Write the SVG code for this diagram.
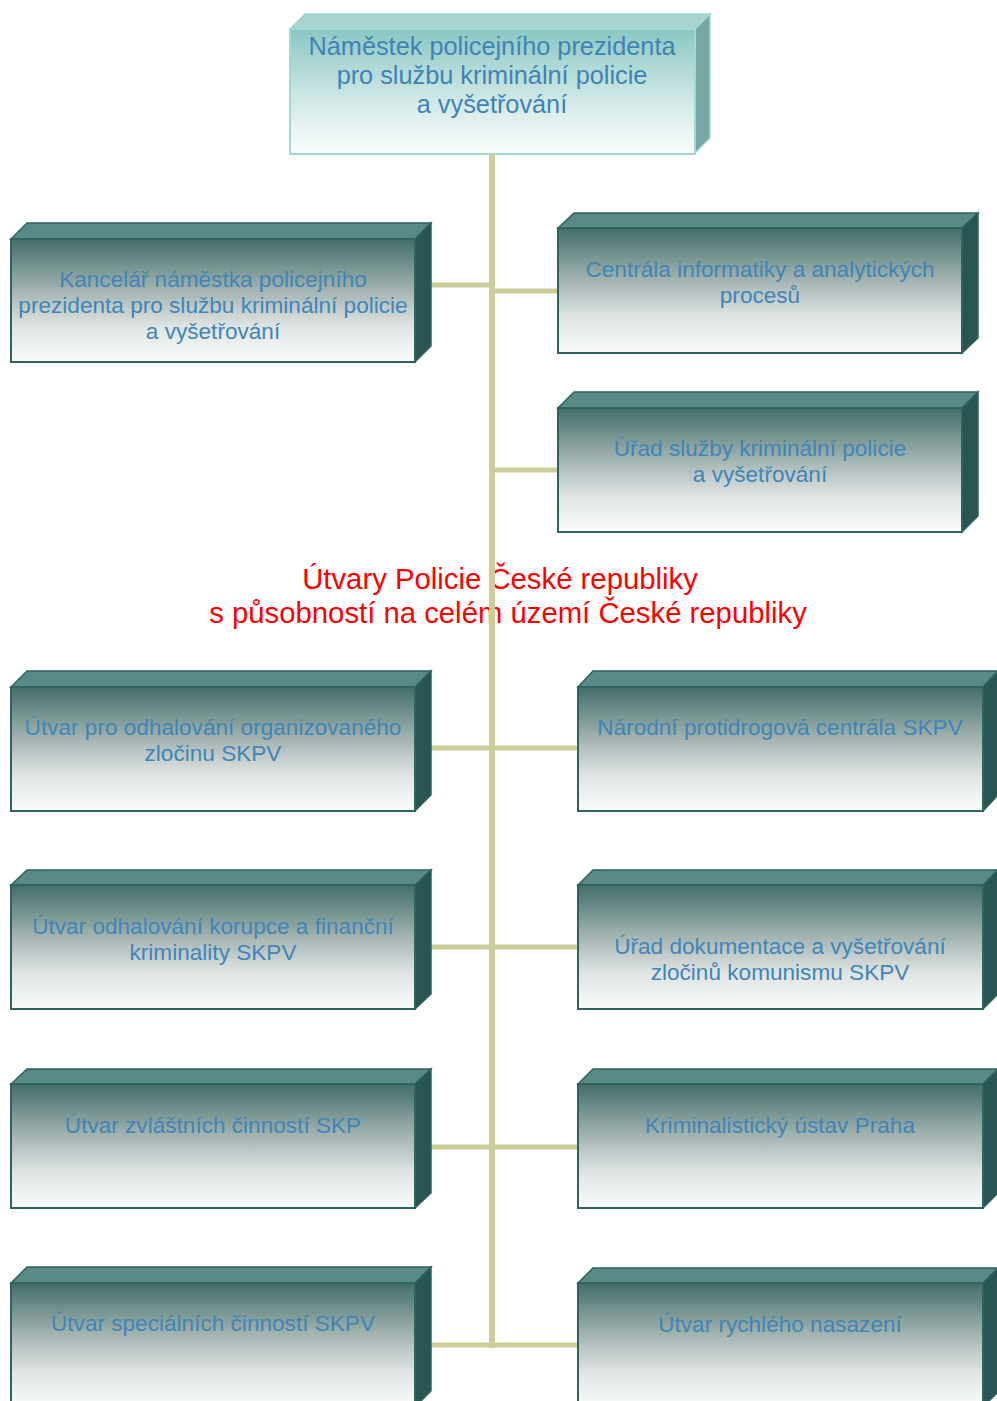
<svg xmlns="http://www.w3.org/2000/svg" width="997" height="1401" viewBox="0 0 997 1401">
<defs>
<linearGradient id="gFront" x1="0" y1="0" x2="0" y2="1">
<stop offset="0" stop-color="#436d69"/>
<stop offset="0.4" stop-color="#9fb1af"/>
<stop offset="0.7" stop-color="#dde2e2"/>
<stop offset="1" stop-color="#fbfcfc"/>
</linearGradient>
<linearGradient id="gTopFront" x1="0" y1="0" x2="0" y2="1">
<stop offset="0" stop-color="#89c7c3"/>
<stop offset="0.5" stop-color="#c9e4e2"/>
<stop offset="1" stop-color="#fcfefe"/>
</linearGradient>
<style>
.front{fill:url(#gFront);stroke:#2f6360;stroke-width:2}
.top{fill:#5b8985;stroke:#2f6360;stroke-width:1.5}
.side{fill:#285552;stroke:#2f6360;stroke-width:1.5}
.tfront{fill:url(#gTopFront);stroke:#a3d8d4;stroke-width:2}
.ttop{fill:#a8d4d0;stroke:#a3d8d4;stroke-width:1.5}
.tside{fill:#79a7a3;stroke:#a3d8d4;stroke-width:1.5}
.lbl{font-family:"Liberation Sans",Arial,sans-serif;font-size:22.6px;fill:#4285b6;text-anchor:middle}
.tlbl{font-family:"Liberation Sans",Arial,sans-serif;font-size:25.3px;fill:#3f83b4;text-anchor:middle}
.red{font-family:"Liberation Sans",Arial,sans-serif;font-size:29.3px;fill:#ff0000;text-anchor:middle}
.conn{stroke:#cdcd9a;fill:none}
</style>
</defs>
<rect width="997" height="1401" fill="#ffffff"/>

<g id="title-text">
<text class="red" x="500" y="589">Útvary Policie České republiky</text>
<text class="red" x="508" y="623">s působností na celém území České republiky</text>
</g>

<g id="connectors">
<line class="conn" x1="492" y1="150" x2="492" y2="1348" stroke-width="6"/>
<line class="conn" x1="425" y1="285" x2="492" y2="285" stroke-width="5"/>
<line class="conn" x1="492" y1="291" x2="560" y2="291" stroke-width="5"/>
<line class="conn" x1="492" y1="470" x2="560" y2="470" stroke-width="5"/>
<line class="conn" x1="425" y1="748" x2="580" y2="748" stroke-width="5"/>
<line class="conn" x1="425" y1="947" x2="580" y2="947" stroke-width="5"/>
<line class="conn" x1="425" y1="1147" x2="580" y2="1147" stroke-width="5"/>
<line class="conn" x1="425" y1="1345" x2="580" y2="1345" stroke-width="5"/>
</g>

<g id="node-top">
<polygon class="ttop" points="290,29 305,14 710,14 695,29"/>
<polygon class="tside" points="695,29 710,14 710,138 695,153"/>
<rect class="tfront" x="290" y="29" width="405" height="125"/>
<text class="tlbl" x="492" y="55">Náměstek policejního prezidenta</text>
<text class="tlbl" x="492" y="84">pro službu kriminální policie</text>
<text class="tlbl" x="492" y="113">a vyšetřování</text>
</g>

<g id="node-kancelar">
<polygon class="top" points="11,239 27,223 431,223 415,239"/>
<polygon class="side" points="415,239 431,223 431,346 415,362"/>
<rect class="front" x="11" y="239" width="404" height="123"/>
<text class="lbl" x="213" y="287">Kancelář náměstka policejního</text>
<text class="lbl" x="213" y="313">prezidenta pro službu kriminální policie</text>
<text class="lbl" x="213" y="339">a vyšetřování</text>
</g>

<g id="node-centrala">
<polygon class="top" points="558,228 574,213 978,213 962,228"/>
<polygon class="side" points="962,228 978,213 978,338 962,353"/>
<rect class="front" x="558" y="228" width="404" height="125"/>
<text class="lbl" x="760" y="277">Centrála informatiky a analytických</text>
<text class="lbl" x="760" y="303">procesů</text>
</g>

<g id="node-urad-skpv">
<polygon class="top" points="558,408 574,392 978,392 962,408"/>
<polygon class="side" points="962,408 978,392 978,516 962,532"/>
<rect class="front" x="558" y="408" width="404" height="124"/>
<text class="lbl" x="760" y="456">Úřad služby kriminální policie</text>
<text class="lbl" x="760" y="482">a vyšetřování</text>
</g>

<g id="node-uooz">
<polygon class="top" points="11,687 27,671 431,671 415,687"/>
<polygon class="side" points="415,687 431,671 431,795 415,811"/>
<rect class="front" x="11" y="687" width="404" height="124"/>
<text class="lbl" x="213" y="735">Útvar pro odhalování organizovaného</text>
<text class="lbl" x="213" y="761">zločinu SKPV</text>
</g>

<g id="node-npc">
<polygon class="top" points="578,687 593,671 998,671 983,687"/>
<polygon class="side" points="983,687 998,671 998,795 983,811"/>
<rect class="front" x="578" y="687" width="405" height="124"/>
<text class="lbl" x="780" y="735">Národní protidrogová centrála SKPV</text>
</g>

<g id="node-uokfk">
<polygon class="top" points="11,885 27,870 431,870 415,885"/>
<polygon class="side" points="415,885 431,870 431,994 415,1009"/>
<rect class="front" x="11" y="885" width="404" height="124"/>
<text class="lbl" x="213" y="934">Útvar odhalování korupce a finanční</text>
<text class="lbl" x="213" y="960">kriminality SKPV</text>
</g>

<g id="node-udv">
<polygon class="top" points="578,885 593,870 998,870 983,885"/>
<polygon class="side" points="983,885 998,870 998,994 983,1009"/>
<rect class="front" x="578" y="885" width="405" height="124"/>
<text class="lbl" x="780" y="954">Úřad dokumentace a vyšetřování</text>
<text class="lbl" x="780" y="980">zločinů komunismu SKPV</text>
</g>

<g id="node-uzc">
<polygon class="top" points="11,1084 27,1069 431,1069 415,1084"/>
<polygon class="side" points="415,1084 431,1069 431,1193 415,1208"/>
<rect class="front" x="11" y="1084" width="404" height="124"/>
<text class="lbl" x="213" y="1133">Útvar zvláštních činností SKP</text>
</g>

<g id="node-kup">
<polygon class="top" points="578,1084 593,1069 998,1069 983,1084"/>
<polygon class="side" points="983,1084 998,1069 998,1193 983,1208"/>
<rect class="front" x="578" y="1084" width="405" height="124"/>
<text class="lbl" x="780" y="1133">Kriminalistický ústav Praha</text>
</g>

<g id="node-usc">
<polygon class="top" points="11,1283 27,1267 431,1267 415,1283"/>
<polygon class="side" points="415,1283 431,1267 431,1391 415,1407"/>
<rect class="front" x="11" y="1283" width="404" height="124"/>
<text class="lbl" x="213" y="1331">Útvar speciálních činností SKPV</text>
</g>

<g id="node-urn">
<polygon class="top" points="578,1283 593,1268 998,1268 983,1283"/>
<polygon class="side" points="983,1283 998,1268 998,1392 983,1407"/>
<rect class="front" x="578" y="1283" width="405" height="124"/>
<text class="lbl" x="780" y="1332">Útvar rychlého nasazení</text>
</g>
</svg>
